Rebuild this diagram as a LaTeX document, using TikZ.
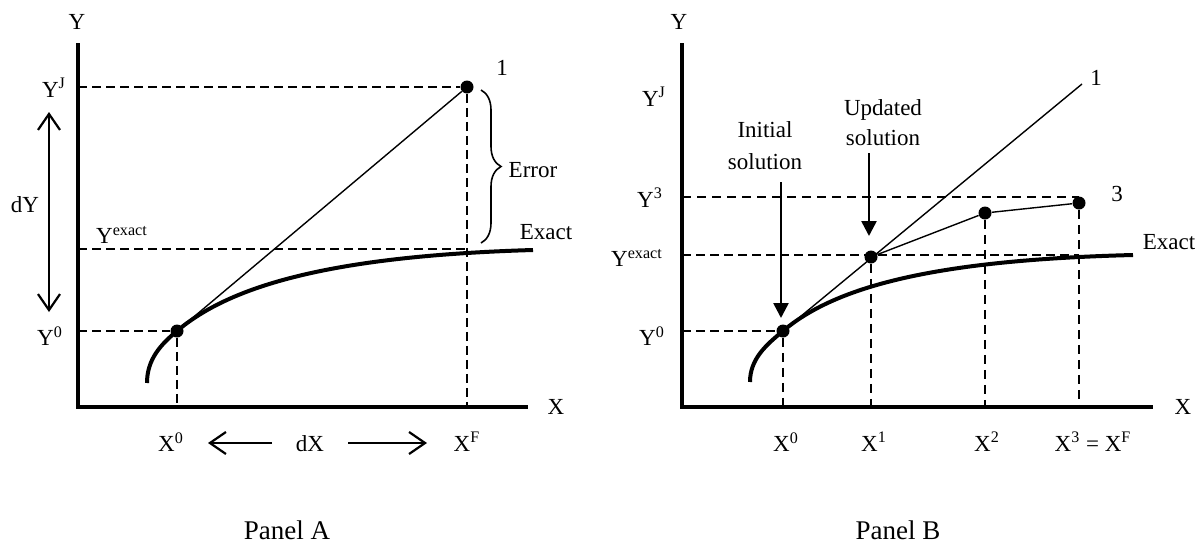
\documentclass[tikz,border=0pt]{standalone}
\usepackage{fontspec}
\setmainfont{Liberation Serif}
\usetikzlibrary{arrows.meta,decorations.pathreplacing}
\begin{document}
\begin{tikzpicture}[x=0.5pt,y=-0.5pt,
    font=\fontsize{11.5}{15}\selectfont,
    barb/.tip={Straight Barb[length=8pt,width=11pt]},
    axis/.style={line width=2.2pt},
    exact/.style={line width=2pt},
    thinline/.style={line width=0.7pt},
    guide/.style={line width=0.7pt,dash pattern=on 4.5pt off 2.5pt},
    boldguide/.style={line width=1.1pt,dash pattern=on 4.5pt off 3pt},
    dot/.style={circle,fill,inner sep=0pt,minimum size=6.5pt},
    openarrow/.style={line width=1.1pt,-barb},
    fillarrow/.style={line width=1.3pt,-{Triangle[length=7.5pt,width=7.5pt]}},
    panel/.style={font=\fontsize{13.5}{16}\selectfont}]
  \useasboundingbox (0,0) rectangle (1201,547);

  % Panel A
  \coordinate (aO) at (78,407);
  \draw[axis] (78,43) coordinate (aYtop) -- (aO) -- (528,407) coordinate (aXend);
  \node (aY) at (77,22) {Y};
  \node (aX) at (556,407) {X};
  \node[dot] (a0) at (177,331) {};
  \node[dot] (a1) at (467,87) {};
  \coordinate (aYJ) at (aO |- a1);
  \coordinate (aYe) at (78,249);
  \coordinate (aY0) at (aO |- a0);
  \draw[guide] (aYJ) -- (a1) -- (a1 |- aO);
  \draw[guide] (aYe) -- (aYe -| a1);
  \draw[guide] (aY0) -- (a0) -- (a0 |- aO);
  \draw[thinline] (a0) -- (a1);
  \draw[exact] (147,383) coordinate (aCs) .. controls (147,360) and (160,345) .. (a0.center)
    .. controls (230,286) and (330,256) .. (533,250) coordinate (aCe);
  \node (aLJ) at (54,88) {Y\textsuperscript{J}};
  \node (aLe) at (122,235) {Y\textsuperscript{exact}};
  \node (aL0) at (50,336) {Y\textsuperscript{0}};
  \node (aN1) at (502,68) {1};
  \node (aExact) at (546,232) {Exact};
  \draw[line width=0.8pt,decorate,decoration={brace,amplitude=10pt}] (481,90) coordinate (aBt) -- (481,243) coordinate (aBb);
  \node (aErr) at (533,170) {Error};
  \draw[openarrow,barb-barb] (49,112) coordinate (aDYt) -- (49,312) coordinate (aDYb);
  \node (aDY) at (25,205) {dY};
  \node (aX0) at (171,442) {X\textsuperscript{0}};
  \node (aXF) at (467,442) {X\textsuperscript{F}};
  \node (aDX) at (310,444) {dX};
  \draw[openarrow] (272,443) coordinate (aDXl) -- (208,443) coordinate (aDXlt);
  \draw[openarrow] (348,443) coordinate (aDXr) -- (427,443) coordinate (aDXrt);
  \node[panel] (aPanel) at (287,530) {Panel A};

  % Panel B
  \coordinate (bO) at (682,407);
  \draw[axis] (682,43) coordinate (bYtop) -- (bO) -- (1153,407) coordinate (bXend);
  \node (bY) at (679,22) {Y};
  \node (bX) at (1183,407) {X};
  \node[dot] (b0) at (783,331) {};
  \node[dot] (b1) at (871,257) {};
  \node[dot] (b2) at (985,213) {};
  \node[dot] (b3) at (1079,203) {};
  \coordinate (bY3) at (682,197);
  \coordinate (bYe) at (682,255);
  \coordinate (bY0) at (bO |- b0);
  \draw[boldguide] (bY3) -- (bY3 -| b3);
  \draw[guide] (bYe) -- (bYe -| b3);
  \draw[guide] (bY0) -- (b0);
  \foreach \p in {b0,b1,b2,b3}
    \draw[boldguide] (\p) -- (\p |- bO);
  \draw[thinline] (b0) -- (1082,84) coordinate (bL1);
  \draw[thinline] (b1) -- (b2) -- (b3);
  \draw[exact] (750,382) coordinate (bCs) .. controls (750,359) and (766,345) .. (b0.center)
    .. controls (836,286) and (936,260) .. (1133,255) coordinate (bCe);
  \node (bLJ) at (654,97) {Y\textsuperscript{J}};
  \node (bL3) at (650,198) {Y\textsuperscript{3}};
  \node (bLe) at (637,258) {Y\textsuperscript{exact}};
  \node (bL0) at (652,336) {Y\textsuperscript{0}};
  \node (bN1) at (1096,78) {1};
  \node (bN3) at (1117,194) {3};
  \node (bExact) at (1169,242) {Exact};
  \node[align=center] (bUpd) at (883,123) {Updated\\solution};
  \draw[fillarrow] (869,153) coordinate (bUs) -- (869,236) coordinate (bUt);
  \node[align=center] (bIni) at (765,146) {Initial\\[1pt]solution};
  \draw[fillarrow] (781,182) coordinate (bIs) -- (781,318) coordinate (bIt);
  \node (bX0) at (786,442) {X\textsuperscript{0}};
  \node (bX1) at (874,442) {X\textsuperscript{1}};
  \node (bX2) at (987,442) {X\textsuperscript{2}};
  \node (bX3) at (1093,442) {X\textsuperscript{3} = X\textsuperscript{F}};
  \node[panel] (bPanel) at (898,530) {Panel B};
\end{tikzpicture}
\end{document}
